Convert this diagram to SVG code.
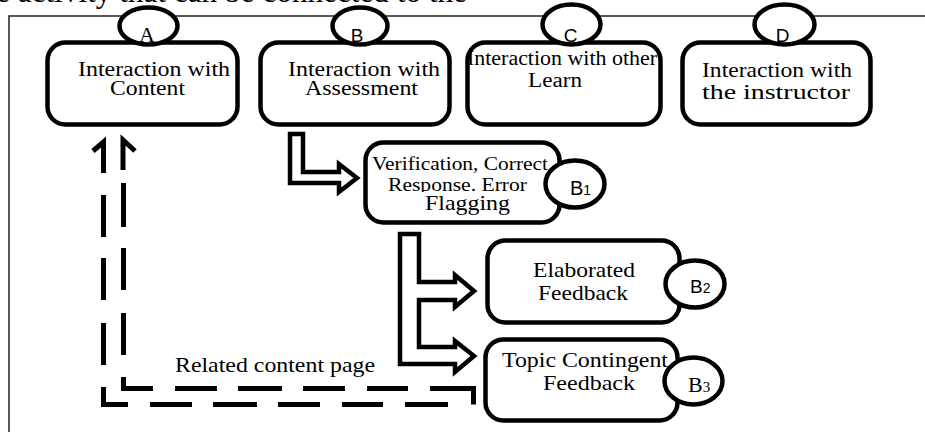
<svg xmlns="http://www.w3.org/2000/svg" width="925" height="432" viewBox="0 0 925 432">
  <style>
    .box { fill: #fff; stroke: #000; stroke-width: 4.5; }
    .tag { fill: #fff; stroke: #000; stroke-width: 4.5; }
    .txt { font-family: "Liberation Serif", "Times New Roman", serif; fill: #000; }
    .lbl { font-family: "Liberation Sans", Arial, sans-serif; fill: #000; }
    .lbls { font-family: "Liberation Serif", "Times New Roman", serif; fill: #000; }
    .blk { fill: #fff; stroke: #000; stroke-width: 4.5; stroke-linejoin: miter; }
    .dash { fill: none; stroke: #000; stroke-width: 5; stroke-linecap: butt; stroke-linejoin: miter; }
  </style>
  <defs>
    <clipPath id="clipB1line2">
      <rect x="360" y="150" width="200" height="42"/>
    </clipPath>
  </defs>

  <rect width="925" height="432" fill="#fff"/>

  <!-- running text line above the figure -->
  <text class="txt" x="-4" y="1.5" font-size="31" textLength="471" lengthAdjust="spacingAndGlyphs">e activity that can be connected to the</text>

  <!-- figure frame -->
  <path d="M9,432 V16 H925" fill="none" stroke="#222" stroke-width="1.5"/>

  <!-- connectors -->
  <g id="connectors">
    <!-- B to B1 -->
    <polygon class="blk" points="290,134 303,134 303,172 339,172 339,164 357,178 339,192 339,183 290,183"/>
    <!-- B1 to B2 and B3 -->
    <polygon class="blk" points="400,234 419,234 419,282 455,282 455,275 474,291 455,307 455,300 419,300 419,347 455,347 455,341 474,356 455,372 455,364 400,364"/>
    <!-- B3 back to A: dashed outline arrow -->
    <g class="dash">
      <polyline points="93,151 103.5,142 103.5,173"/>
      <polyline points="135,151 123,140 123,170"/>
      <path d="M103.5,195 V237 M103.5,258 V300 M103.5,323 V365 M103.5,387 V404.5 H128 M150,404.5 H192 M213,404.5 H257 M278,404.5 H320 M342,404.5 H383 M405,404.5 H448"/>
      <path d="M123.5,183 V227 M123.5,248 V290 M123.5,313 V355 M123.5,377 V388.5 H153 M175,388.5 H217 M238,388.5 H282 M303,388.5 H345 M367,388.5 H408 M430,388.5 H473.5 V404.5"/>
    </g>
    <text class="txt" x="175" y="372" font-size="22" textLength="200" lengthAdjust="spacingAndGlyphs">Related content page</text>
  </g>

  <!-- A -->
  <g id="nodeA">
    <rect class="box" x="47.5" y="42.5" width="190" height="82" rx="18"/>
    <ellipse class="tag" cx="148.5" cy="26" rx="29" ry="18.5"/>
    <text class="lbls" x="147" y="41.5" font-size="22" text-anchor="middle">A</text>
    <text class="txt" x="78" y="76" font-size="20" textLength="152" lengthAdjust="spacingAndGlyphs">Interaction with</text>
    <text class="txt" x="110" y="95" font-size="20" textLength="75" lengthAdjust="spacingAndGlyphs">Content</text>
  </g>

  <!-- B -->
  <g id="nodeB">
    <rect class="box" x="260.5" y="42.5" width="189" height="82" rx="18"/>
    <ellipse class="tag" cx="360" cy="26" rx="27.5" ry="18.5"/>
    <text class="lbl" x="357" y="42" font-size="19" text-anchor="middle">B</text>
    <text class="txt" x="288" y="76" font-size="20" textLength="152" lengthAdjust="spacingAndGlyphs">Interaction with</text>
    <text class="txt" x="305" y="95" font-size="20" textLength="113" lengthAdjust="spacingAndGlyphs">Assessment</text>
  </g>

  <!-- C -->
  <g id="nodeC">
    <rect class="box" x="467.5" y="42.5" width="193" height="82" rx="18"/>
    <ellipse class="tag" cx="571.5" cy="24.5" rx="29" ry="20"/>
    <text class="lbl" x="570.5" y="42" font-size="19" text-anchor="middle">C</text>
    <text class="txt" x="467" y="65" font-size="20" textLength="190" lengthAdjust="spacingAndGlyphs">Interaction with other</text>
    <text class="txt" x="528" y="87" font-size="20" textLength="54" lengthAdjust="spacingAndGlyphs">Learn</text>
  </g>

  <!-- D -->
  <g id="nodeD">
    <rect class="box" x="682.5" y="42.5" width="188" height="82" rx="18"/>
    <ellipse class="tag" cx="784.5" cy="24.5" rx="30" ry="20"/>
    <text class="lbl" x="782.5" y="42" font-size="19" text-anchor="middle">D</text>
    <text class="txt" x="702" y="77" font-size="22" textLength="150" lengthAdjust="spacingAndGlyphs">Interaction with</text>
    <text class="txt" x="702" y="98.5" font-size="22" textLength="148" lengthAdjust="spacingAndGlyphs">the instructor</text>
  </g>

  <!-- B1 -->
  <g id="nodeB1">
    <rect class="box" x="365.5" y="142.5" width="194" height="80" rx="18"/>
    <ellipse class="tag" cx="575" cy="184" rx="29.5" ry="23.5"/>
    <text class="lbl" x="570" y="195" font-size="20">B<tspan font-size="14">1</tspan></text>
    <text class="txt" x="372" y="170" font-size="18" textLength="176" lengthAdjust="spacingAndGlyphs">Verification, Correct</text>
    <text class="txt" x="388" y="191" font-size="18" textLength="139" lengthAdjust="spacingAndGlyphs" clip-path="url(#clipB1line2)">Response. Error</text>
    <text class="txt" x="425" y="210" font-size="22" textLength="85" lengthAdjust="spacingAndGlyphs">Flagging</text>
  </g>

  <!-- B2 -->
  <g id="nodeB2">
    <rect class="box" x="487.5" y="240.5" width="192" height="82" rx="18"/>
    <ellipse class="tag" cx="695" cy="284" rx="29.5" ry="23.5"/>
    <text class="lbl" x="690" y="293" font-size="19">B<tspan font-size="14">2</tspan></text>
    <text class="txt" x="533" y="277" font-size="22" textLength="102" lengthAdjust="spacingAndGlyphs">Elaborated</text>
    <text class="txt" x="538" y="300" font-size="22" textLength="90" lengthAdjust="spacingAndGlyphs">Feedback</text>
  </g>

  <!-- B3 -->
  <g id="nodeB3">
    <rect class="box" x="485.5" y="339.5" width="192" height="81" rx="18"/>
    <ellipse class="tag" cx="693.5" cy="381" rx="29" ry="23.5"/>
    <text class="lbls" x="688" y="392" font-size="22">B<tspan font-size="15">3</tspan></text>
    <text class="txt" x="502" y="367" font-size="22" textLength="166" lengthAdjust="spacingAndGlyphs">Topic Contingent</text>
    <text class="txt" x="543" y="390" font-size="22" textLength="92" lengthAdjust="spacingAndGlyphs">Feedback</text>
  </g>
</svg>
